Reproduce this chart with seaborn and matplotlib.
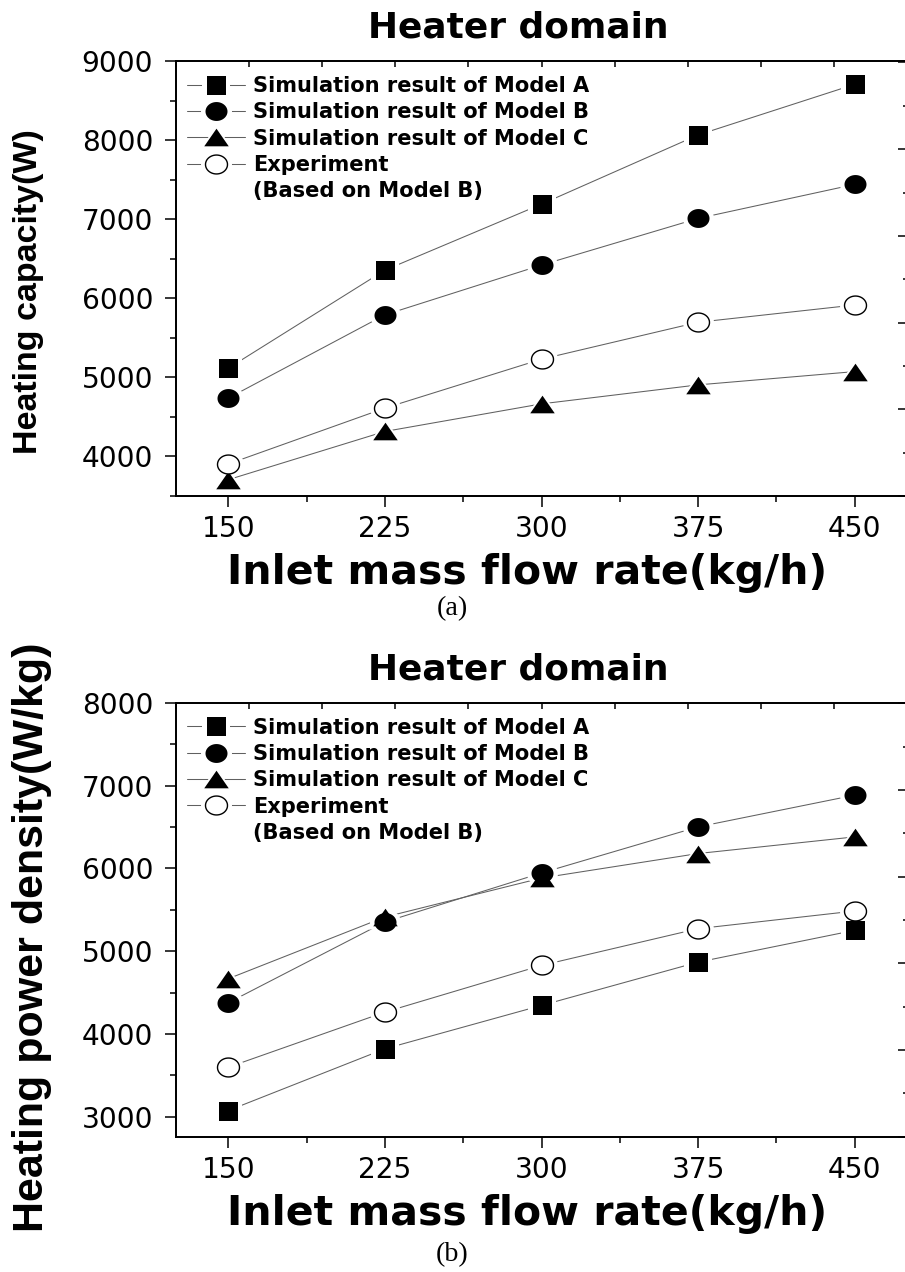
import numpy as np
import pandas as pd
import matplotlib
matplotlib.use("Agg")
import matplotlib.pyplot as plt
import seaborn as sns
from matplotlib.lines import Line2D
from matplotlib.ticker import MultipleLocator, NullFormatter, FixedLocator
from matplotlib.legend_handler import HandlerTuple

# ---------------- data ----------------
flow_rates = [150, 225, 300, 375, 450]
x_ticks = [150, 225, 300, 375, 450]

cap_model_a = [5115, 6355, 7190, 8065, 8705]
cap_model_b = [4737, 5790, 6420, 7010, 7440]
cap_model_c = [3706, 4316, 4665, 4905, 5073]
cap_experiment = [3904, 4611, 5230, 5697, 5915]

dens_model_a = [3075, 3821, 4345, 4868, 5252]
dens_model_b = [4377, 5352, 5944, 6501, 6884]
dens_model_c = [4667, 5412, 5883, 6179, 6380]
dens_experiment = [3598, 4264, 4828, 5272, 5485]

series_labels = ["Simulation result of Model A", "Simulation result of Model B",
                 "Simulation result of Model C", "Experiment"]
legend_note = "(Based on Model B)"
title_text = "Heater domain"
xlabel_text = "Inlet mass flow rate(kg/h)"
ylabel_top = "Heating capacity(W)"
ylabel_bottom = "Heating power density(W/kg)"
panel_tags = ["(a)", "(b)"]

# ---------------- style ----------------
sns.set_style("ticks")
plt.rcParams["font.family"] = ["DejaVu Sans"]
plt.rcParams["axes.linewidth"] = 1.1
plt.rcParams["text.color"] = "black"
plt.rcParams["axes.labelcolor"] = "black"
plt.rcParams["xtick.color"] = "black"
plt.rcParams["ytick.color"] = "black"
plt.rcParams["axes.edgecolor"] = "black"

DPI = 100
W, H = 905, 1272


def pt(px):
    return px * 72.0 / DPI


th = np.linspace(0, 2 * np.pi, 60)
ellipse = np.column_stack([np.cos(th), 0.86 * np.sin(th)])
triangle = np.array([[-1, -0.72], [1, -0.72], [0, 0.72], [-1, -0.72]])

marker_styles = [
    dict(marker="s", ms=pt(19), mfc="black", mec="black", mew=0),
    dict(marker=ellipse, ms=pt(22), mfc="black", mec="black", mew=0),
    dict(marker=triangle, ms=pt(24.5), mfc="black", mec="black", mew=0),
    dict(marker=ellipse, ms=pt(22), mfc="white", mec="black", mew=1.0),
]
halo_extra = pt(9)
line_color = "#606060"
line_w = 0.75

fig = plt.figure(figsize=(W / DPI, H / DPI), dpi=DPI)


def fx(px):
    return px / W


def fy(py):
    return 1 - py / H


def panel(top_px, bottom_px, series, ylim, ylabel, ylabel_size, ylabel_xy):
    left_px, right_px = 176, 907
    ax = fig.add_axes([fx(left_px), fy(bottom_px), fx(right_px - left_px),
                       (bottom_px - top_px) / H])
    height = bottom_px - top_px
    # lines
    for vals in series:
        df = pd.DataFrame({"x": flow_rates, "y": vals})
        sns.lineplot(data=df, x="x", y="y", ax=ax, color=line_color,
                     linewidth=line_w, zorder=2, legend=False)
    # halos
    for vals, st in zip(series, marker_styles):
        ax.plot(flow_rates, vals, linestyle="none", marker=st["marker"],
                ms=st["ms"] + halo_extra, mfc="white", mec="white", mew=0, zorder=3)
    # markers
    for vals, st in zip(series, marker_styles):
        ax.plot(flow_rates, vals, linestyle="none", zorder=4, **st)

    ax.set_xlim(125, 475)
    ax.set_ylim(*ylim)
    ax.xaxis.set_major_locator(FixedLocator(x_ticks))
    ax.xaxis.set_minor_locator(MultipleLocator(37.5))
    ax.yaxis.set_major_locator(MultipleLocator(1000))
    ax.yaxis.set_minor_locator(MultipleLocator(500))
    ax.tick_params(axis="both", which="major", direction="out", length=pt(11),
                   width=1.1, labelsize=pt(28), color="black", labelcolor="black")
    ax.tick_params(axis="both", which="minor", direction="out", length=pt(6),
                   width=1.1, color="black")
    ax.tick_params(axis="x", which="major", pad=pt(8))
    ax.tick_params(axis="y", which="major", pad=pt(12))
    ax.tick_params(top=False, right=False, which="both")
    for s in ax.spines.values():
        s.set_visible(True)
        s.set_color("black")
        s.set_linewidth(1.1)
    ax.set_xlabel(xlabel_text, fontsize=pt(41), fontweight="bold", va="center",
                  color="black")
    ax.xaxis.set_label_coords((527 - left_px) / (right_px - left_px),
                              (bottom_px - (bottom_px + 77)) / height)
    ax.set_ylabel(ylabel, fontsize=pt(ylabel_size), fontweight="bold",
                  family=["Liberation Sans", "DejaVu Sans"], va="center",
                  color="black")
    ax.yaxis.set_label_coords((ylabel_xy[0] - left_px) / (right_px - left_px),
                              (bottom_px - ylabel_xy[1]) / height)
    ax.text((518 - left_px) / (right_px - left_px), 1 + 33 / height, title_text,
            transform=ax.transAxes, ha="center", va="center",
            fontsize=pt(36), fontweight="bold", color="black")

    # top twin ticks (inward, all equal)
    axt = ax.twiny()
    axt.set_xlim(0, 10)
    axt.xaxis.set_major_locator(MultipleLocator(1))
    axt.xaxis.set_major_formatter(NullFormatter())
    axt.tick_params(axis="x", which="major", direction="in", length=pt(6),
                    width=1.1, top=True, bottom=False, labeltop=False)
    axt.grid(False)
    # right twin ticks (inward)
    axr = ax.twinx()
    axr.set_ylim(0, height / 86.7)
    axr.yaxis.set_major_locator(MultipleLocator(1))
    axr.yaxis.set_minor_locator(MultipleLocator(0.5))
    axr.yaxis.set_major_formatter(NullFormatter())
    axr.tick_params(axis="y", which="major", direction="in", length=pt(9),
                    width=1.1, right=True, left=False, labelright=False)
    axr.tick_params(axis="y", which="minor", direction="in", length=pt(4),
                    width=1.1, right=True, left=False)
    axr.grid(False)

    # legend
    handles = []
    for st in marker_styles:
        ln = Line2D([], [], color=line_color, linewidth=line_w)
        halo = Line2D([], [], linestyle="none", marker=st["marker"],
                      ms=st["ms"] + halo_extra, mfc="white", mec="white", mew=0)
        mk = Line2D([], [], linestyle="none", **st)
        handles.append((ln, halo, mk))
    handles.append(Line2D([], [], color="none"))
    labels = series_labels + [legend_note]
    leg = ax.legend(handles, labels, loc="upper left",
                    bbox_to_anchor=((187 - left_px) / (right_px - left_px), 1 - 15 / height),
                    frameon=False, borderpad=0, borderaxespad=0,
                    handlelength=58 / 21, handletextpad=8 / 21, labelspacing=0.30,
                    prop=dict(size=pt(21), weight="bold"),
                    handler_map={tuple: HandlerTuple(ndivide=1)})
    for t in leg.get_texts():
        t.set_color("black")
    leg.set_zorder(6)
    return ax


ax1 = panel(61, 496, [cap_model_a, cap_model_b, cap_model_c, cap_experiment],
            (3500, 9000), ylabel_top, 34, (29, 292))
ax2 = panel(702.7, 1136.7, [dens_model_a, dens_model_b, dens_model_c, dens_experiment],
            (2760, 8000), ylabel_bottom, 43, (32, 937))

fig.text(fx(452), fy(609), panel_tags[0], ha="center", va="center",
         fontsize=pt(28), family=["Liberation Serif", "DejaVu Serif"], color="black")
fig.text(fx(452), fy(1255), panel_tags[1], ha="center", va="center",
         fontsize=pt(28), family=["Liberation Serif", "DejaVu Serif"], color="black")

fig.savefig("out.png", dpi=DPI)
